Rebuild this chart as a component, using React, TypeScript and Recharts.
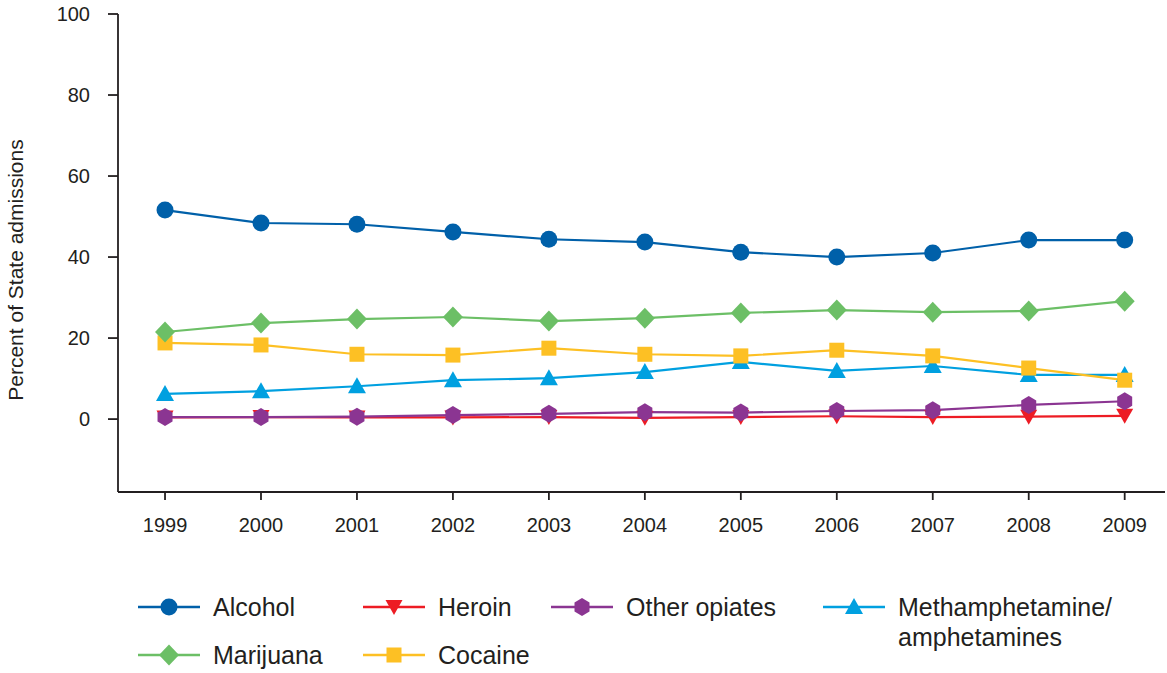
import React from 'react';
import { LineChart, Line, XAxis, YAxis } from 'recharts';

const years = [1999, 2000, 2001, 2002, 2003, 2004, 2005, 2006, 2007, 2008, 2009];
const alcohol = [51.6, 48.4, 48.1, 46.2, 44.4, 43.7, 41.2, 40.0, 41.0, 44.2, 44.2];
const heroin = [0.4, 0.5, 0.4, 0.4, 0.5, 0.3, 0.5, 0.7, 0.5, 0.6, 0.8];
const otherOpiates = [0.5, 0.5, 0.6, 1.0, 1.3, 1.7, 1.6, 2.0, 2.2, 3.5, 4.4];
const meth = [6.2, 6.9, 8.1, 9.6, 10.1, 11.6, 14.1, 11.9, 13.1, 10.9, 10.9];
const marijuana = [21.5, 23.7, 24.7, 25.2, 24.2, 24.9, 26.2, 26.9, 26.4, 26.7, 29.1];
const cocaine = [18.8, 18.3, 16.0, 15.8, 17.5, 16.0, 15.6, 17.0, 15.6, 12.6, 9.6];
const yTicks = [0, 20, 40, 60, 80, 100];

const INK = '#231f20';
const FONT = '"Liberation Sans", Arial, Helvetica, sans-serif';

type Shape = 'circle' | 'down' | 'hex' | 'up' | 'diamond' | 'square';

const series = [
  { key: 'alcohol', name: 'Alcohol', color: '#0060a9', shape: 'circle' as Shape },
  { key: 'heroin', name: 'Heroin', color: '#ed1c24', shape: 'down' as Shape },
  { key: 'otherOpiates', name: 'Other opiates', color: '#8b3592', shape: 'hex' as Shape },
  { key: 'meth', name: 'Methamphetamine/|amphetamines', color: '#00a0e0', shape: 'up' as Shape },
  { key: 'marijuana', name: 'Marijuana', color: '#6cbf66', shape: 'diamond' as Shape },
  { key: 'cocaine', name: 'Cocaine', color: '#fdc024', shape: 'square' as Shape },
];

// draw order so purple sits over red, yellow over blue like the original
const drawOrder = ['alcohol', 'heroin', 'meth', 'cocaine', 'marijuana', 'otherOpiates'];

const data = years.map((year, i) => ({
  year,
  alcohol: alcohol[i],
  heroin: heroin[i],
  otherOpiates: otherOpiates[i],
  meth: meth[i],
  marijuana: marijuana[i],
  cocaine: cocaine[i],
}));

function markerEl(shape: Shape, cx: number, cy: number, color: string, key?: string) {
  switch (shape) {
    case 'circle':
      return <circle key={key} cx={cx} cy={cy} r={8.5} fill={color} />;
    case 'down':
      return <polygon key={key} points={`${cx - 8.5},${cy - 7} ${cx + 8.5},${cy - 7} ${cx},${cy + 8}`} fill={color} />;
    case 'up':
      return <polygon key={key} points={`${cx},${cy - 9} ${cx + 9},${cy + 7} ${cx - 9},${cy + 7}`} fill={color} />;
    case 'hex':
      return (
        <polygon
          key={key}
          points={`${cx},${cy - 9} ${cx + 7.5},${cy - 4.5} ${cx + 7.5},${cy + 4.5} ${cx},${cy + 9} ${cx - 7.5},${cy + 4.5} ${cx - 7.5},${cy - 4.5}`}
          fill={color}
        />
      );
    case 'diamond':
      return <polygon key={key} points={`${cx},${cy - 10.5} ${cx + 10},${cy} ${cx},${cy + 10.5} ${cx - 10},${cy}`} fill={color} />;
    default:
      return <rect key={key} x={cx - 7.5} y={cy - 7.5} width={15} height={15} fill={color} />;
  }
}

const makeDot = (shape: Shape, color: string) => (props: any) => {
  const { cx, cy, index } = props;
  if (cx == null || cy == null) return <g key={`d-${index}`} />;
  return markerEl(shape, cx, cy, color, `d-${index}`);
};

const YLabel = (props: any) => {
  const { viewBox } = props;
  const x = viewBox.x + 15;
  const y = viewBox.y + viewBox.height / 2 + 17;
  return (
    <text x={x} y={y} transform={`rotate(-90, ${x}, ${y})`} textAnchor="middle" dominantBaseline="central" fill={INK} fontSize={21} fontFamily={FONT}>
      Percent of State admissions
    </text>
  );
};

// legend slots: [left of line, top of row]
const legendPos: Record<string, [number, number]> = {
  alcohol: [137, 607],
  heroin: [362, 607],
  otherOpiates: [550, 607],
  meth: [822, 607],
  marijuana: [137, 655],
  cocaine: [362, 655],
};

function ChartLegend() {
  return (
    <>
      {series.map(s => {
        const [x, y] = legendPos[s.key];
        const lines = s.name.split('|');
        return (
          <div key={s.key} style={{ position: 'absolute', left: x, top: y - 20, height: 80 }}>
            <svg width={64} height={40} style={{ position: 'absolute', left: 0, top: 0 }}>
              <line x1={1} y1={20} x2={63} y2={20} stroke={s.color} strokeWidth={2.5} />
              {markerEl(s.shape, 32, 20, s.color)}
            </svg>
            <div style={{ position: 'absolute', left: 76, top: 5, fontFamily: FONT, fontSize: 25, lineHeight: '30px', color: INK, whiteSpace: 'nowrap' }}>
              {lines.map((l, i) => (
                <div key={i}>{l}</div>
              ))}
            </div>
          </div>
        );
      })}
    </>
  );
}

export default function App() {
  return (
    <div style={{ position: 'relative', width: 1167, height: 673, background: '#fff' }}>
      <style>{'body{margin:0}'}</style>
      <LineChart width={1167} height={673} data={data} margin={{ top: 14, right: 2, left: 0, bottom: 0 }}>
        <XAxis
          dataKey="year"
          type="number"
          domain={[1998.51, 2009.42]}
          ticks={years}
          allowDataOverflow
          tickSize={8}
          tickMargin={18}
          stroke={INK}
          strokeWidth={1.8}
          tick={{ fill: INK, fontSize: 20, fontFamily: FONT }}
          height={181}
        />
        <YAxis
          type="number"
          domain={[-18, 100]}
          ticks={yTicks}
          allowDataOverflow
          width={118}
          tickSize={10}
          tickMargin={18}
          stroke={INK}
          strokeWidth={1.8}
          tick={{ fill: INK, fontSize: 20, fontFamily: FONT }}
          label={<YLabel />}
        />
        {drawOrder.map(k => {
          const s = series.find(x => x.key === k)!;
          return (
            <Line
              key={s.key}
              dataKey={s.key}
              type="linear"
              stroke={s.color}
              strokeWidth={2.2}
              dot={makeDot(s.shape, s.color)}
              activeDot={false}
              isAnimationActive={false}
            />
          );
        })}
      </LineChart>
      <ChartLegend />
    </div>
  );
}
